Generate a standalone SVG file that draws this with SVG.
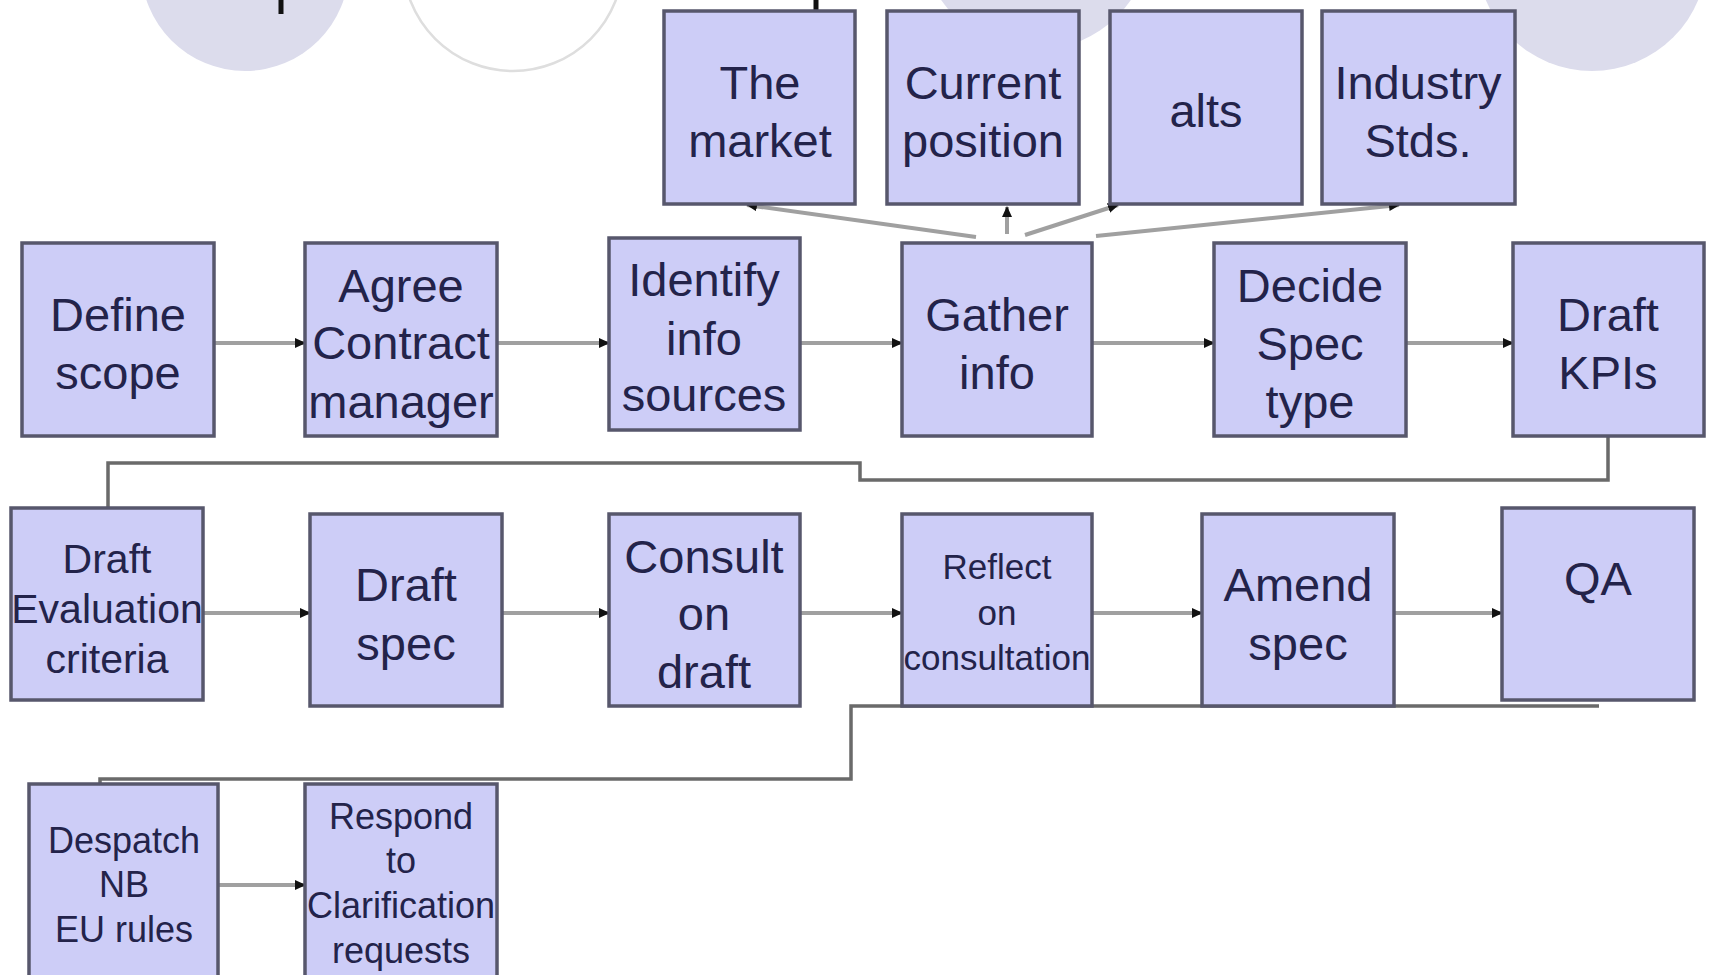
<svg xmlns="http://www.w3.org/2000/svg" width="1710" height="975" viewBox="0 0 1710 975">
<style>
.box{fill:#cdcdf7;stroke:#57576c;stroke-width:3.5}
.t{font-family:"Liberation Sans",Arial,sans-serif;fill:#23234a;text-anchor:middle}
.big{font-size:47px}
.mid{font-size:41px}
.sm{font-size:36px}
.xs{font-size:35px}
.arr{stroke:#a0a0a0;stroke-width:4;fill:none;marker-end:url(#ah)}
.br{stroke:#6a6a6a;stroke-width:3.5;fill:none}
</style>
<defs>
<marker id="ah" markerUnits="userSpaceOnUse" markerWidth="12" markerHeight="12" refX="10" refY="6" orient="auto">
<path d="M0,1 L11,6 L0,11 Z" fill="#111"/>
</marker>
</defs>
<rect width="1710" height="975" fill="#ffffff"/>
<g id="background">
<circle cx="245" cy="-33" r="104" fill="#dcdcec"/>
<circle cx="513" cy="-39" r="110" fill="none" stroke="#dedede" stroke-width="2.5"/>
<circle cx="1036" cy="-65" r="115" fill="#dcdcec"/>
<circle cx="1592" cy="-44" r="115" fill="#dcdcec"/>
<line x1="281" y1="0" x2="281" y2="14" stroke="#111" stroke-width="5"/>
<line x1="816" y1="0" x2="816" y2="11" stroke="#111" stroke-width="5"/>
</g>
<g id="connectors">
<line class="arr" x1="214" y1="343" x2="305" y2="343"/>
<line class="arr" x1="497" y1="343" x2="609" y2="343"/>
<line class="arr" x1="800" y1="343" x2="902" y2="343"/>
<line class="arr" x1="1092" y1="343" x2="1214" y2="343"/>
<line class="arr" x1="1406" y1="343" x2="1513" y2="343"/>
<line class="arr" x1="976" y1="237" x2="747" y2="205"/>
<line class="arr" x1="1007" y1="234" x2="1007" y2="207"/>
<line class="arr" x1="1025" y1="235" x2="1118" y2="205"/>
<line class="arr" x1="1096" y1="236" x2="1399" y2="205"/>
<path class="br" d="M1608,436 V480 H860 V463 H108 V508"/>
<line class="arr" x1="203" y1="613" x2="310" y2="613"/>
<line class="arr" x1="502" y1="613" x2="609" y2="613"/>
<line class="arr" x1="800" y1="613" x2="902" y2="613"/>
<line class="arr" x1="1092" y1="613" x2="1202" y2="613"/>
<line class="arr" x1="1394" y1="613" x2="1502" y2="613"/>
<path class="br" d="M1599,706 H851 V779 H100 V784"/>
<line class="arr" x1="218" y1="885" x2="305" y2="885"/>
</g>
<g id="n_market"><rect class="box" x="664" y="11" width="191" height="193"/><text class="t big" x="760" y="99">The</text><text class="t big" x="760" y="157">market</text></g>
<g id="n_current"><rect class="box" x="887" y="11" width="192" height="193"/><text class="t big" x="983" y="99">Current</text><text class="t big" x="983" y="157">position</text></g>
<g id="n_alts"><rect class="box" x="1110" y="11" width="192" height="193"/><text class="t big" x="1206" y="127">alts</text></g>
<g id="n_industry"><rect class="box" x="1322" y="11" width="193" height="193"/><text class="t big" x="1418" y="99">Industry</text><text class="t big" x="1418" y="157">Stds.</text></g>
<g id="n_define"><rect class="box" x="22" y="243" width="192" height="193"/><text class="t big" x="118" y="331">Define</text><text class="t big" x="118" y="389">scope</text></g>
<g id="n_agree"><rect class="box" x="305" y="243" width="192" height="193"/><text class="t big" x="401" y="302">Agree</text><text class="t big" x="401" y="359">Contract</text><text class="t big" x="401" y="418">manager</text></g>
<g id="n_identify"><rect class="box" x="609" y="238" width="191" height="192"/><text class="t big" x="704" y="296">Identify</text><text class="t big" x="704" y="355">info</text><text class="t big" x="704" y="411">sources</text></g>
<g id="n_gather"><rect class="box" x="902" y="243" width="190" height="193"/><text class="t big" x="997" y="331">Gather</text><text class="t big" x="997" y="389">info</text></g>
<g id="n_decide"><rect class="box" x="1214" y="243" width="192" height="193"/><text class="t big" x="1310" y="302">Decide</text><text class="t big" x="1310" y="360">Spec</text><text class="t big" x="1310" y="418">type</text></g>
<g id="n_kpis"><rect class="box" x="1513" y="243" width="191" height="193"/><text class="t big" x="1608" y="331">Draft</text><text class="t big" x="1608" y="389">KPIs</text></g>
<g id="n_eval"><rect class="box" x="11" y="508" width="192" height="192"/><text class="t mid" x="107" y="573">Draft</text><text class="t mid" x="107" y="623">Evaluation</text><text class="t mid" x="107" y="673">criteria</text></g>
<g id="n_draftspec"><rect class="box" x="310" y="514" width="192" height="192"/><text class="t big" x="406" y="601">Draft</text><text class="t big" x="406" y="660">spec</text></g>
<g id="n_consult"><rect class="box" x="609" y="514" width="191" height="192"/><text class="t big" x="704" y="573">Consult</text><text class="t big" x="704" y="630">on</text><text class="t big" x="704" y="688">draft</text></g>
<g id="n_reflect"><rect class="box" x="902" y="514" width="190" height="192"/><text class="t xs" x="997" y="579">Reflect</text><text class="t xs" x="997" y="625">on</text><text class="t xs" x="997" y="670">consultation</text></g>
<g id="n_amend"><rect class="box" x="1202" y="514" width="192" height="192"/><text class="t big" x="1298" y="601">Amend</text><text class="t big" x="1298" y="660">spec</text></g>
<g id="n_qa"><rect class="box" x="1502" y="508" width="192" height="192"/><text class="t big" x="1598" y="595">QA</text></g>
<g id="n_despatch"><rect class="box" x="29" y="784" width="189" height="200"/><text class="t sm" x="124" y="853">Despatch</text><text class="t sm" x="124" y="897">NB</text><text class="t sm" x="124" y="942">EU rules</text></g>
<g id="n_respond"><rect class="box" x="305" y="784" width="192" height="200"/><text class="t sm" x="401" y="829">Respond</text><text class="t sm" x="401" y="873">to</text><text class="t sm" x="401" y="918">Clarification</text><text class="t sm" x="401" y="963">requests</text></g>
</svg>
